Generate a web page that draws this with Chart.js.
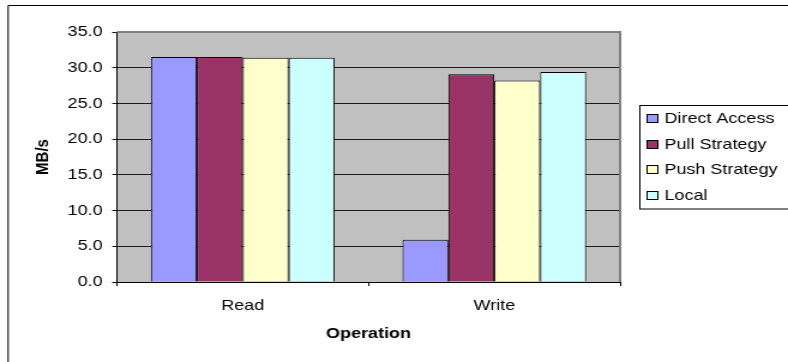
<!DOCTYPE html>
<html>
<head>
<meta charset="utf-8">
<script src="https://cdn.jsdelivr.net/npm/chart.js"></script>
<style>
  html, body { margin:0; padding:0; background:#fff; overflow:hidden; }
  /* the reference is a horizontally stretched Excel chart: draw narrower and stretch */
  #wrap { width:657px; height:362px; transform:scaleX(1.19939); transform-origin:0 0; }
</style>
</head>
<body>
<div id="wrap"><canvas id="c" width="657" height="362" style="width:657px;height:362px"></canvas></div>
<script>
// data
const categories = ['Read', 'Write'];
const seriesNames = ['Direct Access', 'Pull Strategy', 'Push Strategy', 'Local'];
const directAccess = [31.5, 5.9];
const pullStrategy = [31.5, 29.1];
const pushStrategy = [31.4, 28.2];
const local = [31.4, 29.4];
const seriesColors = ['#9999FF', '#993366', '#FFFFCC', '#CCFFFF'];
const yTicks = [0, 5, 10, 15, 20, 25, 30, 35];

const FONT = 'Arial, "Liberation Sans", sans-serif';

// plot background, grey border, outer frame and the boxed legend
const excelLook = {
  id: 'excelLook',
  beforeDraw(chart){
    const c = chart.ctx, a = chart.chartArea;
    c.save();
    c.fillStyle = '#fff'; c.fillRect(0, 0, chart.width, chart.height);
    c.fillStyle = '#C0C0C0'; c.fillRect(a.left, a.top, a.right - a.left, a.bottom - a.top);
    // outer frame (cropped at right and bottom)
    c.strokeStyle = '#000'; c.lineWidth = 1;
    c.beginPath(); c.moveTo(6.8, 362); c.lineTo(6.8, 5.5); c.lineTo(chart.width, 5.5); c.stroke();
    c.restore();
  },
  afterDatasetsDraw(chart){
    const c = chart.ctx, a = chart.chartArea;
    c.save();
    c.strokeStyle = '#808080'; c.lineWidth = 2;
    c.beginPath(); c.moveTo(a.left, a.top); c.lineTo(a.right, a.top); c.lineTo(a.right, a.bottom); c.stroke();
    c.restore();
  },
  afterDraw(chart){
    const c = chart.ctx;
    c.save();
    c.strokeStyle = '#000'; c.lineWidth = 1;
    c.strokeRect(533.5, 105.5, 140, 103.5);
    c.font = '15px ' + FONT; c.textBaseline = 'middle';
    chart.data.datasets.forEach((ds, i) => {
      const y = 119 + i * 25.6;
      const top = Math.round(y) - 4.5;
      c.fillStyle = ds.backgroundColor;
      c.fillRect(539.5, top, 9, 8);
      c.strokeStyle = '#000';
      c.strokeRect(539.5, top, 9, 8);
      c.fillStyle = '#000';
      c.fillText(ds.label, 554, y);
    });
    c.restore();
  }
};

const seriesData = [directAccess, pullStrategy, pushStrategy, local];

new Chart(document.getElementById('c'), {
  type: 'bar',
  data: {
    labels: categories,
    datasets: seriesNames.map((name, i) => ({
      label: name,
      data: seriesData[i],
      backgroundColor: seriesColors[i],
      borderColor: '#000',
      borderWidth: 1,
      categoryPercentage: 0.73,
      barPercentage: 1.0
    }))
  },
  options: {
    responsive: false,
    animation: false,
    devicePixelRatio: 1,
    layout: { padding: { left: 0, top: 32, right: 140, bottom: 0 } },
    plugins: { legend: { display: false }, tooltip: { enabled: false } },
    scales: {
      x: {
        afterFit: s => { s.height = 80; },
        grid: { display: true, drawOnChartArea: false, drawTicks: true, tickLength: 4, offset: true, color: '#000' },
        border: { display: true, color: '#000', width: 1 },
        ticks: { color: '#000', font: { family: FONT, size: 15 }, padding: 11 },
        title: { display: true, text: 'Operation', color: '#000', font: { family: FONT, size: 15, weight: 'bold' }, padding: { top: 0, bottom: 19 } }
      },
      y: {
        min: 0, max: 35,
        afterFit: s => { s.width = 97.5; },
        afterBuildTicks: s => { s.ticks = yTicks.map(v => ({ value: v })); },
        grid: { color: '#1a1a1a', lineWidth: 1, tickLength: 4 },
        border: { display: true, color: '#000', width: 1 },
        ticks: { color: '#000', font: { family: FONT, size: 15 }, padding: 8, callback: v => v.toFixed(1) },
        title: { display: true, text: 'MB/s', color: '#000', font: { family: FONT, size: 15, weight: 'bold' }, padding: { top: 27, bottom: 0 } }
      }
    }
  },
  plugins: [excelLook]
});
</script>
</body>
</html>
